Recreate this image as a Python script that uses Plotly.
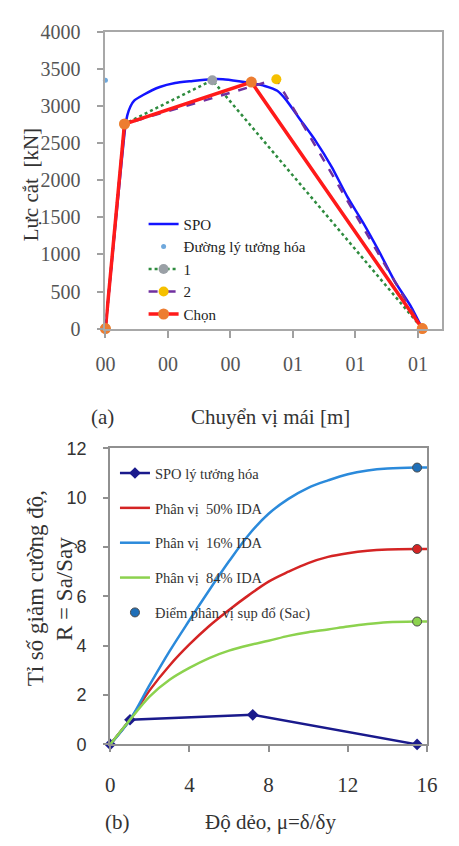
import plotly.graph_objects as go

W, H = 459, 846

# ---------------- (a) pushover curves ----------------
spo_x = [0, 0.0064, 0.0070, 0.0080, 0.0092, 0.0122, 0.0174, 0.0223, 0.0275, 0.0336, 0.0376,
         0.0427, 0.0467, 0.0510, 0.0550, 0.0580, 0.0620, 0.0672, 0.0724, 0.0773,
         0.0824, 0.0876, 0.0925, 0.0977, 0.1014]
spo_y = [0, 2740, 2880, 3000, 3079, 3158, 3263, 3316, 3342, 3368, 3368,
         3342, 3316, 3276, 3211, 3079, 2842, 2539, 2184, 1789,
         1434, 1039, 645, 303, 0]

ideal_x = [0.0]
ideal_y = [3355]

bi1_x = [0, 0.0061, 0.0342, 0.1014]
bi1_y = [0, 2763, 3355, 0]

bi2_x = [0, 0.0061, 0.0547, 0.1014]
bi2_y = [0, 2763, 3368, 0]

chon_x = [0, 0.0061, 0.0467, 0.1014]
chon_y = [0, 2763, 3329, 0]

a_xticks = [0, 0.02, 0.04, 0.06, 0.08, 0.10]
a_xtext = ["00", "00", "00", "01", "01", "01"]
a_yticks = [0, 500, 1000, 1500, 2000, 2500, 3000, 3500, 4000]

# ---------------- (b) IDA quantile curves ----------------
spo_b_mu = [0, 1, 7.2, 15.5]
spo_b_R = [0, 1, 1.2, 0]

mu_q = [0, 1, 2, 3, 4, 5, 6, 7, 8, 9, 10, 11, 12, 13, 14, 15.5, 16]
R50 = [0, 1, 2.2, 3.2, 4.05, 4.8, 5.45, 6.05, 6.6, 7.0, 7.35, 7.6, 7.75, 7.85, 7.9, 7.92, 7.92]
R16 = [0, 1, 2.42, 3.78, 5.03, 6.25, 7.42, 8.5, 9.35, 9.95, 10.4, 10.7, 10.95, 11.1, 11.18, 11.22, 11.22]
R84 = [0, 1, 1.95, 2.62, 3.1, 3.5, 3.8, 4.02, 4.2, 4.4, 4.55, 4.66, 4.78, 4.88, 4.95, 4.98, 4.98]

sac_mu = [15.5, 15.5, 15.5]
sac_R = [11.22, 7.92, 4.98]

b_xticks = [0, 4, 8, 12, 16]
b_yticks = [0, 2, 4, 6, 8, 10, 12]

C_SPO = "#1414FF"
C_IDEAL = "#6FA8DC"
C_1 = "#2E8B3E"
C_2 = "#7030A0"
C_CHON = "#FF1A1A"
C_ORANGE = "#ED7D31"
C_NAVY = "#1A1A8C"
C_RED = "#D42424"
C_BLUE = "#2B8ADB"
C_GREEN = "#8CD24E"

fig = go.Figure()

fig.add_trace(go.Scatter(x=spo_x, y=spo_y, mode="lines", name="SPO",
                         line=dict(color=C_SPO, width=2.5, shape="spline", smoothing=0.5),
                         xaxis="x", yaxis="y", legend="legend", cliponaxis=False))
fig.add_trace(go.Scatter(x=ideal_x, y=ideal_y, mode="markers", name="Đường lý tưởng hóa",
                         marker=dict(color=C_IDEAL, size=5),
                         xaxis="x", yaxis="y", legend="legend", cliponaxis=False))
fig.add_trace(go.Scatter(x=bi1_x, y=bi1_y, mode="lines+markers", name="1",
                         line=dict(color=C_1, width=2.5, dash="dot"),
                         marker=dict(color="#9AA0A6", size=10),
                         xaxis="x", yaxis="y", legend="legend", cliponaxis=False))
fig.add_trace(go.Scatter(x=bi2_x, y=bi2_y, mode="lines+markers", name="2",
                         line=dict(color=C_2, width=2.5, dash="dash"),
                         marker=dict(color="#F5C000", size=10),
                         xaxis="x", yaxis="y", legend="legend", cliponaxis=False))
fig.add_trace(go.Scatter(x=chon_x, y=chon_y, mode="lines+markers", name="Chọn",
                         line=dict(color=C_CHON, width=3.5),
                         marker=dict(color=C_ORANGE, size=11),
                         xaxis="x", yaxis="y", legend="legend", cliponaxis=False))

fig.add_trace(go.Scatter(x=spo_b_mu, y=spo_b_R, mode="lines+markers", name="SPO lý tưởng hóa",
                         line=dict(color=C_NAVY, width=2.5),
                         marker=dict(color=C_NAVY, size=9, symbol="diamond"),
                         xaxis="x2", yaxis="y2", legend="legend2", legendgroup="g1",
                         cliponaxis=False))
fig.add_trace(go.Scatter(x=mu_q, y=R50, mode="lines", name="Phân vị  50% IDA",
                         line=dict(color=C_RED, width=2.5, shape="spline"),
                         xaxis="x2", yaxis="y2", legend="legend2", legendgroup="g2"))
fig.add_trace(go.Scatter(x=mu_q, y=R16, mode="lines", name="Phân vị  16% IDA",
                         line=dict(color=C_BLUE, width=2.5, shape="spline"),
                         xaxis="x2", yaxis="y2", legend="legend2", legendgroup="g3"))
fig.add_trace(go.Scatter(x=mu_q, y=R84, mode="lines", name="Phân vị  84% IDA",
                         line=dict(color=C_GREEN, width=2.5, shape="spline"),
                         xaxis="x2", yaxis="y2", legend="legend2", legendgroup="g4"))
fig.add_trace(go.Scatter(x=sac_mu, y=sac_R, mode="markers", name="Điểm phân vị sụp đổ (Sac)",
                         marker=dict(color=["#1F6FB8", C_RED, C_GREEN], size=9,
                                     line=dict(color="#4A4A4A", width=1)),
                         xaxis="x2", yaxis="y2", legend="legend2", legendgroup="g5",
                         cliponaxis=False))

serif = "Liberation Serif, Times New Roman, serif"
sans = "Liberation Sans, Arial, sans-serif"

fig.update_layout(
    width=W, height=H,
    margin=dict(l=0, r=0, t=0, b=0),
    paper_bgcolor="white", plot_bgcolor="white",
    showlegend=True,
    xaxis=dict(domain=[100 / W, 453 / W], range=[0, 0.1078], anchor="y",
               tickvals=a_xticks, ticktext=a_xtext, ticks="outside", ticklen=7,
               tickcolor="#A0A0A0", tickwidth=1.5, showgrid=False, zeroline=False,
               showline=True, linecolor="#A8A8A8", linewidth=2, mirror=True,
               ticklabelstandoff=9,
               tickfont=dict(family=serif, size=20, color="#555555")),
    yaxis=dict(domain=[1 - 326 / H, 1 - 22 / H], range=[0, 4000], anchor="x",
               tickvals=a_yticks, ticks="outside", ticklen=6, tickcolor="#A0A0A0",
               tickwidth=1.5, showgrid=False, zeroline=False,
               showline=True, linecolor="#A8A8A8", linewidth=2, mirror=True,
               ticklabelstandoff=13,
               tickfont=dict(family=serif, size=20, color="#555555")),
    xaxis2=dict(domain=[105 / W, 437 / W], range=[0, 16], anchor="y2",
                tickvals=b_xticks, ticks="outside", ticklen=6, tickcolor="#909090",
                tickwidth=1.5, showgrid=False, zeroline=False,
                showline=True, linecolor="#909090", linewidth=2, mirror=True,
                ticklabelstandoff=14,
                tickfont=dict(family=serif, size=21, color="#333333")),
    yaxis2=dict(domain=[1 - 753 / H, 1 - 449 / H], range=[0, 12], anchor="x2",
                tickvals=b_yticks, ticks="outside", ticklen=5, tickcolor="#909090",
                tickwidth=1.5, showgrid=False, zeroline=False,
                showline=True, linecolor="#909090", linewidth=2, mirror=True,
                ticklabelstandoff=13,
                tickfont=dict(family=sans, size=18, color="#333333")),
    legend=dict(x=140 / W, y=1 - 202 / H, xanchor="left", yanchor="top",
                bgcolor="rgba(0,0,0,0)", borderwidth=0,
                font=dict(family=serif, size=15, color="#222222")),
    legend2=dict(x=110 / W, y=1 - 458 / H, xanchor="left", yanchor="top",
                 bgcolor="rgba(0,0,0,0)", borderwidth=0, traceorder="grouped",
                 tracegroupgap=13,
                 font=dict(family=serif, size=14.5, color="#333333")),
)

ann_font = dict(family=serif, size=21, color="#333333")
annotations = [
    dict(text="Lực cắt  [kN]", x=22 / W, y=1 - 178 / H, textangle=-90),
    dict(text="(a)", x=97 / W, y=1 - 417 / H),
    dict(text="Chuyển vị mái [m]", x=273 / W, y=1 - 417 / H),
    dict(text="Tỉ số giảm cường độ,", x=27 / W, y=1 - 593 / H, textangle=-90,
         font=dict(family=serif, size=23, color="#333333")),
    dict(text="R = Sa/Say", x=57 / W, y=1 - 593 / H, textangle=-90,
         font=dict(family=serif, size=23, color="#333333")),
    dict(text="(b)", x=113 / W, y=1 - 833 / H),
    dict(text="Độ dẻo, μ=δ/δy", x=273 / W, y=1 - 833 / H),
]
for a in annotations:
    a.update(xref="paper", yref="paper", showarrow=False,
             xanchor="center", yanchor="middle")
    a.setdefault("font", ann_font)
fig.update_layout(annotations=annotations)

fig.write_html("out.html")
